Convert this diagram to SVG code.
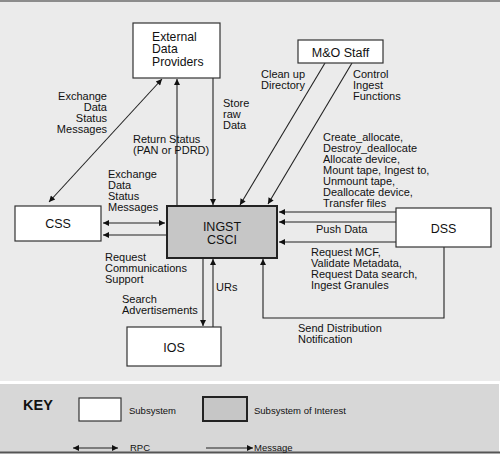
<svg xmlns="http://www.w3.org/2000/svg" width="500" height="454" viewBox="0 0 500 454">
<style>
text{font-family:"Liberation Sans",Arial,Helvetica,sans-serif;fill:#111}
.lbl{font-size:11px}
.box{font-size:12.5px}
.box3{font-size:12.2px}
.key{font-size:9.5px}
.node{fill:#fff;stroke:#333;stroke-width:1.2}
.hot{fill:#c6c6c6;stroke:#222;stroke-width:2}
.c{fill:none;stroke:#222;stroke-width:1.1}
.e{marker-end:url(#ah)}
.b{marker-start:url(#ah);marker-end:url(#ah)}
</style>
<defs>
<marker id="ah" viewBox="0 0 10 10" refX="10" refY="5" markerWidth="8" markerHeight="6" markerUnits="userSpaceOnUse" orient="auto-start-reverse">
<path d="M0,0 L10,5 L0,10 z" fill="#111"/>
</marker>
</defs>
<rect x="0" y="0" width="500" height="454" fill="#fff"/>
<rect x="0" y="0" width="500" height="381" fill="#ebebeb"/>
<line x1="0" y1="1" x2="500" y2="1" stroke="#8c8c8c" stroke-width="2"/>
<rect x="0" y="384" width="499" height="69" fill="#d7d7d7"/>
<line x1="0" y1="452.5" x2="500" y2="452.5" stroke="#555" stroke-width="2"/>

<g id="connectors">
<path class="c b" d="M162,79 L49,202"/>
<path class="c e" d="M177,206 V79"/>
<path class="c e" d="M213,78 V205"/>
<path class="c e" d="M325,63 L240,205"/>
<path class="c e" d="M352,63 L268,204"/>
<path class="c b" d="M103,223 H165"/>
<path class="c e" d="M167,235 H103"/>
<path class="c e" d="M203,258 V326"/>
<path class="c e" d="M213,327 V259"/>
<path class="c e" d="M396,212 H279"/>
<path class="c e" d="M396,222 H279"/>
<path class="c e" d="M396,242 H279"/>
<path class="c e" d="M444,247 V318 H263 V259"/>
</g>

<g id="ext">
<rect class="node" x="133" y="23" width="87" height="55"/>
<text class="box3"><tspan x="152" y="40.5">External</tspan><tspan x="152" y="53">Data</tspan><tspan x="152" y="65.5">Providers</tspan></text>
</g>
<g id="mo">
<rect class="node" x="298" y="40" width="85" height="23"/>
<text class="box" x="340.5" y="56.5" text-anchor="middle">M&amp;O Staff</text>
</g>
<g id="css">
<rect class="node" x="15" y="206" width="86" height="35"/>
<text class="box" x="58" y="227.5" text-anchor="middle">CSS</text>
</g>
<g id="ingst">
<rect class="hot" x="167" y="206" width="110" height="52"/>
<text class="box" text-anchor="middle" font-size="12"><tspan x="222" y="231">INGST</tspan><tspan x="222" y="244">CSCI</tspan></text>
</g>
<g id="dss">
<rect class="node" x="396" y="208" width="95" height="39"/>
<text class="box" x="443.5" y="232.5" text-anchor="middle">DSS</text>
</g>
<g id="ios">
<rect class="node" x="127" y="327" width="94" height="39"/>
<text class="box" x="174" y="351.5" text-anchor="middle">IOS</text>
</g>

<g id="labels">
<text class="lbl" text-anchor="end"><tspan x="107" y="100">Exchange</tspan><tspan x="107" y="111">Data</tspan><tspan x="107" y="122">Status</tspan><tspan x="107" y="133">Messages</tspan></text>
<text class="lbl"><tspan x="133" y="143">Return Status</tspan><tspan x="133" y="154">(PAN or PDRD)</tspan></text>
<text class="lbl"><tspan x="223" y="107">Store</tspan><tspan x="223" y="118">raw</tspan><tspan x="223" y="129">Data</tspan></text>
<text class="lbl"><tspan x="108" y="178">Exchange</tspan><tspan x="108" y="189">Data</tspan><tspan x="108" y="200">Status</tspan><tspan x="108" y="211">Messages</tspan></text>
<text class="lbl"><tspan x="261" y="78">Clean up</tspan><tspan x="261" y="89">Directory</tspan></text>
<text class="lbl"><tspan x="353" y="78">Control</tspan><tspan x="353" y="89">Ingest</tspan><tspan x="353" y="100">Functions</tspan></text>
<text class="lbl"><tspan x="323" y="141">Create_allocate,</tspan><tspan x="323" y="152">Destroy_deallocate</tspan><tspan x="323" y="163">Allocate device,</tspan><tspan x="323" y="174">Mount tape, Ingest to,</tspan><tspan x="323" y="185">Unmount tape,</tspan><tspan x="323" y="196">Deallocate device,</tspan><tspan x="323" y="207">Transfer files</tspan></text>
<text class="lbl" x="316" y="233">Push Data</text>
<text class="lbl"><tspan x="311" y="256">Request MCF,</tspan><tspan x="311" y="267">Validate Metadata,</tspan><tspan x="311" y="278">Request Data search,</tspan><tspan x="311" y="289">Ingest Granules</tspan></text>
<text class="lbl"><tspan x="298" y="332">Send Distribution</tspan><tspan x="298" y="343">Notification</tspan></text>
<text class="lbl"><tspan x="105" y="261">Request</tspan><tspan x="105" y="272">Communications</tspan><tspan x="105" y="283">Support</tspan></text>
<text class="lbl"><tspan x="122" y="303">Search</tspan><tspan x="122" y="314">Advertisements</tspan></text>
<text class="lbl" x="216" y="291">URs</text>
</g>

<g id="key">
<text x="23" y="410" font-size="14.5" font-weight="bold">KEY</text>
<rect x="79" y="398" width="42" height="23" fill="#fff" stroke="#333" stroke-width="1.2"/>
<text class="key" x="129" y="414">Subsystem</text>
<rect x="203" y="397" width="44" height="24" fill="#c6c6c6" stroke="#222" stroke-width="2"/>
<text class="key" x="254" y="414">Subsystem of Interest</text>
<path class="c b" d="M73,448 H118"/>
<text class="key" x="130" y="451">RPC</text>
<path class="c e" d="M206,448 H253"/>
<text class="key" x="254" y="451">Message</text>
</g>
</svg>
